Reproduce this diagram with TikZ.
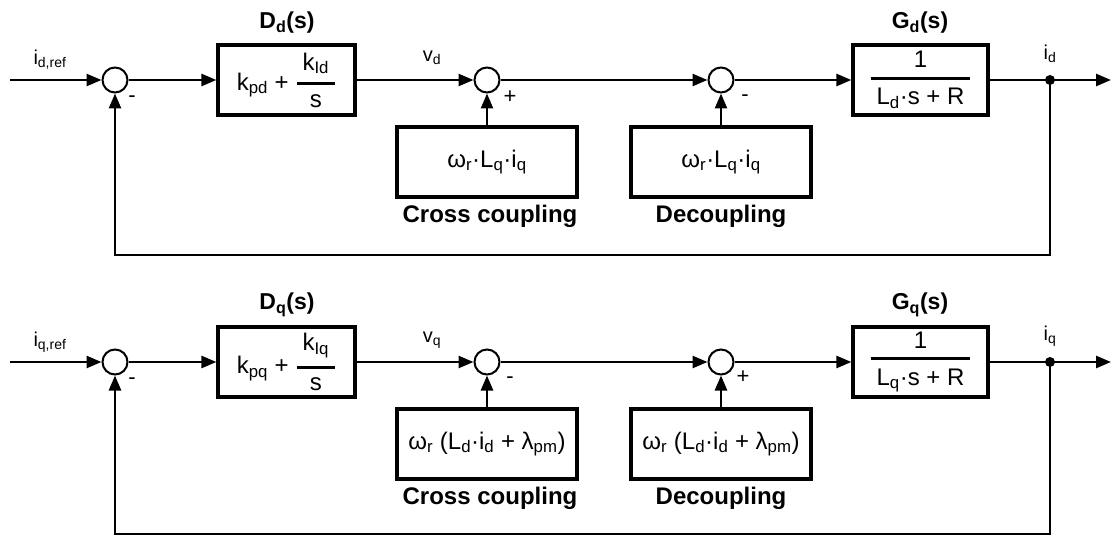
\documentclass[tikz,border=0pt]{standalone}
\usepackage{fontspec}
\setmainfont{Liberation Sans}
\usetikzlibrary{arrows.meta}
\newcommand\ffrac[2]{$\displaystyle{\hbox{#1}\above 2.8pt\hbox{#2}}$}
\newcommand\sbs[1]{\textsubscript{#1}}
\begin{document}
\begin{tikzpicture}[x=1pt,y=-1pt,
  arr/.style={line width=2.6pt,-{Triangle[length=15pt,width=12pt]}},
  blk/.style={draw, line width=3.2pt, inner sep=0pt, align=center,
    font=\fontsize{24}{27}\selectfont},
  sumj/.style={circle, draw, line width=2pt, minimum size=25pt, inner sep=0pt},
  dotn/.style={circle, fill, minimum size=10pt, inner sep=0pt},
  title/.style={font=\fontsize{23}{26}\selectfont\bfseries},
  sig/.style={font=\fontsize{20}{22}\selectfont},
  lbl/.style={font=\fontsize{24}{27}\selectfont\bfseries},
  sgn/.style={font=\fontsize{22}{24}\selectfont}
]
\useasboundingbox (0,0) rectangle (1113,537);

% ---------------- top loop ----------------
\coordinate (in1) at (10,80);
\node[sumj] (s1) at (115,80) {};
\node[blk, minimum width=137pt, minimum height=70pt] (d1) at (286.5,80)
  {k\sbs{pd} + \ffrac{\hspace{6pt}k\sbs{Id}\hspace{6pt}}{s}};
\node[title] (d1t) at (287,23) {D\sbs{d}(s)};
\node[sumj] (s2) at (487,80) {};
\node[sumj] (s3) at (721,80) {};
\node[blk, minimum width=135pt, minimum height=70pt] (g1) at (920.5,80)
  {\ffrac{1}{\hspace{6pt}L\sbs{d}·s + R\hspace{6pt}}};
\node[title] (g1t) at (920,23) {G\sbs{d}(s)};
\node[dotn] (p1) at (1050,80) {};
\coordinate (out1) at (1111,80);
\node[blk, minimum width=180pt, minimum height=70pt] (c1) at (487,162)
  {ω\sbs{r}·L\sbs{q}·i\sbs{q}};
\node[blk, minimum width=180pt, minimum height=70pt] (k1) at (721,162)
  {ω\sbs{r}·L\sbs{q}·i\sbs{q}};
\node[lbl] (c1l) at (490,216) {Cross coupling};
\node[lbl] (k1l) at (721,216) {Decoupling};
\coordinate (fb1) at (115,255);
\node[sig] (l1a) at (50,60) {i\sbs{d,ref}};
\node[sig] (l1b) at (432,58) {v\sbs{d}};
\node[sig] (l1c) at (1050,54) {i\sbs{d}};
\node[sgn] (m1a) at (132,99) {-};
\node[sgn] (m1b) at (510,97) {+};
\node[sgn] (m1c) at (745,98) {-};

\draw[arr] (in1) -- (s1.west);
\draw[arr] (s1.east) -- (d1.west);
\draw[arr] (d1.east) -- (s2.west);
\draw[arr] (s2.east) -- (s3.west);
\draw[arr] (s3.east) -- (g1.west);
\draw[arr] (g1.east) -- (out1);
\draw[arr] (c1.north) -- (s2.south);
\draw[arr] (k1.north) -- (s3.south);
\draw[arr] (p1.center) -- (p1.center |- fb1) -- (fb1) -- (s1.south);

% ---------------- bottom loop ----------------
\coordinate (in2) at (10,362);
\node[sumj] (s4) at (115,362) {};
\node[blk, minimum width=137pt, minimum height=70pt] (d2) at (286.5,362)
  {k\sbs{pq} + \ffrac{\hspace{6pt}k\sbs{Iq}\hspace{6pt}}{s}};
\node[title] (d2t) at (287,305) {D\sbs{q}(s)};
\node[sumj] (s5) at (487,362) {};
\node[sumj] (s6) at (721,362) {};
\node[blk, minimum width=135pt, minimum height=70pt] (g2) at (920.5,362)
  {\ffrac{1}{\hspace{6pt}L\sbs{q}·s + R\hspace{6pt}}};
\node[title] (g2t) at (920,305) {G\sbs{q}(s)};
\node[dotn] (p2) at (1050,362) {};
\coordinate (out2) at (1111,362);
\node[blk, minimum width=180pt, minimum height=70pt] (c2) at (487,444)
  {ω\sbs{r} (L\sbs{d}·i\sbs{d} + λ\sbs{pm})};
\node[blk, minimum width=180pt, minimum height=70pt] (k2) at (721,444)
  {ω\sbs{r} (L\sbs{d}·i\sbs{d} + λ\sbs{pm})};
\node[lbl] (c2l) at (490,498) {Cross coupling};
\node[lbl] (k2l) at (721,498) {Decoupling};
\coordinate (fb2) at (115,534);
\node[sig] (l2a) at (50,342) {i\sbs{q,ref}};
\node[sig] (l2b) at (432,340) {v\sbs{q}};
\node[sig] (l2c) at (1050,336) {i\sbs{q}};
\node[sgn] (m2a) at (132,381) {-};
\node[sgn] (m2b) at (510,380) {-};
\node[sgn] (m2c) at (743,377) {+};

\draw[arr] (in2) -- (s4.west);
\draw[arr] (s4.east) -- (d2.west);
\draw[arr] (d2.east) -- (s5.west);
\draw[arr] (s5.east) -- (s6.west);
\draw[arr] (s6.east) -- (g2.west);
\draw[arr] (g2.east) -- (out2);
\draw[arr] (c2.north) -- (s5.south);
\draw[arr] (k2.north) -- (s6.south);
\draw[arr] (p2.center) -- (p2.center |- fb2) -- (fb2) -- (s4.south);
\end{tikzpicture}
\end{document}
